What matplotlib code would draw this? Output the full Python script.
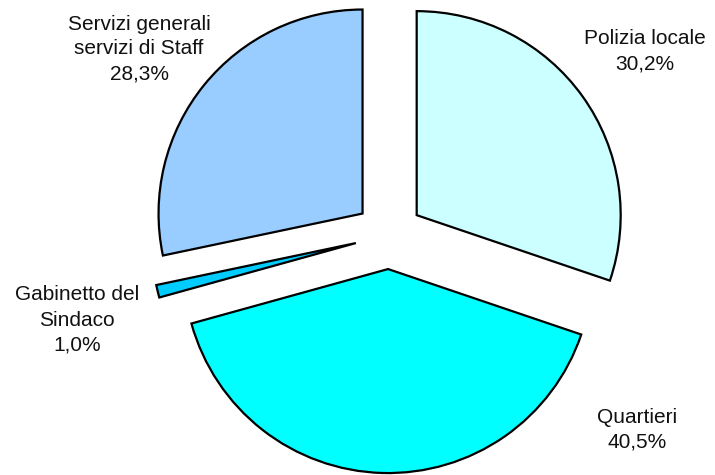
import matplotlib.pyplot as plt

categorie = ["Polizia locale", "Quartieri", "Gabinetto del\nSindaco", "Servizi generali\nservizi di Staff"]
quote = [30.2, 40.5, 1.0, 28.3]
colori = ["#CCFFFF", "#00FFFF", "#00CCFF", "#99CCFF"]

# label centres in image pixels
label_px = [(645, 51), (637, 430), (77, 320), (139, 49)]

W, H = 715, 475
CX, CY, R = 389, 235, 204


def px_to_data(px, py):
    return (px - CX) / R, (CY - py) / R


fig = plt.figure(figsize=(W / 100, H / 100), dpi=100)
ax = fig.add_axes([0, 0, 1, 1])

wedges, _ = ax.pie(quote, colors=colori, startangle=90, counterclock=False,
                   explode=[0.167] * 4, radius=1,
                   wedgeprops=dict(edgecolor="black", linewidth=1.6))

for nome, val, (px, py) in zip(categorie, quote, label_px):
    x, y = px_to_data(px, py)
    testo = nome + "\n" + ("%.1f%%" % val).replace(".", ",")
    ax.text(x, y, testo, ha="center", va="center", fontsize=15,
            family="Liberation Sans", linespacing=1.4, color="#111111")

ax.set_xlim(-CX / R, (W - CX) / R)
ax.set_ylim(-(H - CY) / R, CY / R)
ax.set_aspect("auto")
ax.axis("off")

plt.savefig("out.png", dpi=100)
